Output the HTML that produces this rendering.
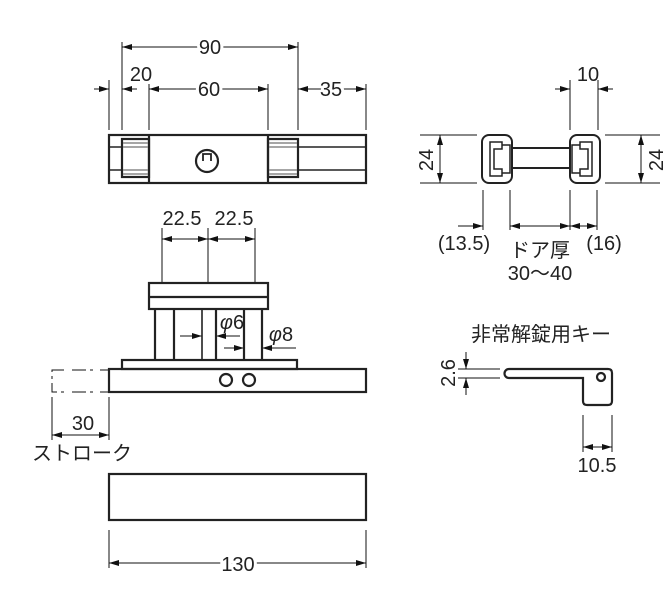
<!DOCTYPE html>
<html><head><meta charset="utf-8"><style>
html,body{margin:0;padding:0;background:#fff}
svg{display:block}
text{font-family:"Liberation Sans","Noto Sans CJK JP",sans-serif;font-size:20px;fill:#222}
</style></head><body>
<svg width="672" height="602" viewBox="0 0 672 602" xmlns="http://www.w3.org/2000/svg">
<defs>
<marker id="a" viewBox="0 0 10 6" refX="10" refY="3" markerWidth="10" markerHeight="6" orient="auto-start-reverse" markerUnits="userSpaceOnUse"><path d="M0,0 L10,3 L0,6z" fill="#111"/></marker>
</defs>
<g stroke="#111" stroke-width="1" fill="none">
<line x1="109" y1="80" x2="109" y2="130"/><line x1="122" y1="42" x2="122" y2="130"/>
<line x1="149" y1="84" x2="149" y2="130"/><line x1="268" y1="84" x2="268" y2="130"/>
<line x1="298" y1="42" x2="298" y2="130"/><line x1="366" y1="84" x2="366" y2="130"/>
<line x1="122" y1="47" x2="298" y2="47" marker-start="url(#a)" marker-end="url(#a)"/>
<line x1="94" y1="89" x2="109" y2="89" marker-end="url(#a)"/>
<line x1="137" y1="89" x2="122" y2="89" marker-end="url(#a)"/>
<line x1="149" y1="89" x2="268" y2="89" marker-start="url(#a)" marker-end="url(#a)"/>
<line x1="298" y1="89" x2="366" y2="89" marker-start="url(#a)" marker-end="url(#a)"/>
</g>
<g stroke="#222" stroke-width="2.2" fill="none">
<rect x="109" y="135" width="257" height="48"/>
<line x1="149" y1="135" x2="149" y2="183"/><line x1="268" y1="135" x2="268" y2="183"/>
<line x1="109" y1="147" x2="122" y2="147" stroke-width="1.5"/><line x1="109" y1="170" x2="122" y2="170" stroke-width="1.5"/>
<line x1="298" y1="147" x2="366" y2="147" stroke-width="1.5"/><line x1="298" y1="170" x2="366" y2="170" stroke-width="1.5"/>
<rect x="122" y="139" width="27" height="38"/>
<rect x="268" y="139" width="30" height="38"/>
<circle cx="207" cy="161" r="11"/>
<path d="M203,161 v-7 h8 v7" stroke-width="1.8"/>
</g>
<g stroke="#888" stroke-width="1.5">
<line x1="123" y1="143" x2="148" y2="143"/><line x1="123" y1="147" x2="148" y2="147"/>
<line x1="123" y1="170" x2="148" y2="170"/><line x1="123" y1="174" x2="148" y2="174"/>
<line x1="269" y1="143" x2="297" y2="143"/><line x1="269" y1="147" x2="297" y2="147"/>
<line x1="269" y1="170" x2="297" y2="170"/><line x1="269" y1="174" x2="297" y2="174"/>
</g>
<text x="141" y="81" text-anchor="middle">20</text>
<text x="209" y="96" text-anchor="middle" style="paint-order:stroke;stroke:#fff;stroke-width:6px">60</text>
<text x="210" y="54" text-anchor="middle" style="paint-order:stroke;stroke:#fff;stroke-width:6px">90</text>
<text x="331" y="96" text-anchor="middle" style="paint-order:stroke;stroke:#fff;stroke-width:6px">35</text>

<g stroke="#111" stroke-width="1" fill="none">
<line x1="162" y1="228" x2="162" y2="283"/><line x1="208" y1="228" x2="208" y2="283"/><line x1="255" y1="228" x2="255" y2="283"/>
<line x1="162" y1="239" x2="208" y2="239" marker-start="url(#a)" marker-end="url(#a)"/>
<line x1="208" y1="239" x2="255" y2="239" marker-start="url(#a)" marker-end="url(#a)"/>
<line x1="180" y1="336" x2="202" y2="336" marker-end="url(#a)"/>
<line x1="240" y1="336" x2="216" y2="336" marker-end="url(#a)"/>
<line x1="224" y1="348" x2="244" y2="348" marker-end="url(#a)"/>
<line x1="296" y1="348" x2="262" y2="348" marker-end="url(#a)"/>
<path d="M64,370 H52 V392 H64 M72,370 h24 M72,392 h24 M100,370 h9 M100,392 h9" stroke-dasharray="14,4,3,4"/>
<line x1="52" y1="397" x2="52" y2="440"/><line x1="109" y1="397" x2="109" y2="440"/>
<line x1="52" y1="435" x2="109" y2="435" marker-start="url(#a)" marker-end="url(#a)"/>
<line x1="109" y1="530" x2="109" y2="568"/><line x1="366" y1="530" x2="366" y2="568"/>
<line x1="109" y1="563" x2="366" y2="563" marker-start="url(#a)" marker-end="url(#a)"/>
</g>
<g stroke="#222" stroke-width="2.2" fill="none">
<rect x="149" y="283" width="119" height="26"/><line x1="149" y1="297" x2="268" y2="297"/>
<line x1="155" y1="309" x2="155" y2="360"/><line x1="174" y1="309" x2="174" y2="360"/>
<line x1="202" y1="309" x2="202" y2="360" stroke-width="1.6"/><line x1="216" y1="309" x2="216" y2="360"/>
<line x1="244" y1="309" x2="244" y2="360"/><line x1="262" y1="309" x2="262" y2="360"/>
<rect x="122" y="360" width="175" height="9"/>
<rect x="109" y="369" width="257" height="23"/>
<circle cx="226" cy="380" r="6"/><circle cx="249" cy="380" r="6"/>
<rect x="109" y="474" width="257" height="46"/>
</g>
<text x="182" y="225" text-anchor="middle">22.5</text>
<text x="234" y="225" text-anchor="middle">22.5</text>
<text x="232" y="329" text-anchor="middle"><tspan font-style="italic">φ</tspan>6</text>
<text x="281" y="341" text-anchor="middle"><tspan font-style="italic">φ</tspan>8</text>
<text x="83" y="430" text-anchor="middle">30</text>
<text x="82" y="460" text-anchor="middle">ストローク</text>
<text x="238" y="571" text-anchor="middle" style="paint-order:stroke;stroke:#fff;stroke-width:6px">130</text>

<g stroke="#111" stroke-width="1" fill="none">
<line x1="420" y1="135" x2="477" y2="135"/><line x1="420" y1="183" x2="477" y2="183"/>
<line x1="605" y1="135" x2="660" y2="135"/><line x1="605" y1="183" x2="660" y2="183"/>
<line x1="440" y1="135" x2="440" y2="183" marker-start="url(#a)" marker-end="url(#a)"/>
<line x1="641" y1="135" x2="641" y2="183" marker-start="url(#a)" marker-end="url(#a)"/>
<line x1="570" y1="80" x2="570" y2="130"/><line x1="598" y1="80" x2="598" y2="130"/>
<line x1="555" y1="89" x2="570" y2="89" marker-end="url(#a)"/>
<line x1="613" y1="89" x2="598" y2="89" marker-end="url(#a)"/>
<line x1="483" y1="190" x2="483" y2="230"/><line x1="510" y1="190" x2="510" y2="230"/>
<line x1="570" y1="190" x2="570" y2="230"/><line x1="597" y1="190" x2="597" y2="230"/>
<line x1="458" y1="226" x2="483" y2="226" marker-end="url(#a)"/>
<line x1="510" y1="226" x2="570" y2="226" marker-start="url(#a)" marker-end="url(#a)"/>
<line x1="570" y1="226" x2="597" y2="226" marker-start="url(#a)" marker-end="url(#a)"/>
</g>
<g stroke="#222" stroke-width="2" fill="none">
<rect x="482" y="135" width="30" height="48" rx="7"/>
<path d="M490,142 h12 v7 h-8 v20 h8 v7 h-12 z" stroke-width="1.5"/>
<path d="M502,145 h8 v28 h-8" stroke-width="1.5"/>
<rect x="570" y="135" width="30" height="48" rx="7"/>
<path d="M592,142 h-12 v7 h8 v20 h-8 v7 h12 z" stroke-width="1.5"/>
<path d="M580,145 h-8 v28 h8" stroke-width="1.5"/>
<rect x="512" y="148" width="58" height="20"/>
</g>
<text transform="translate(433,160) rotate(-90)" text-anchor="middle">24</text>
<text transform="translate(663,160) rotate(-90)" text-anchor="middle">24</text>
<text x="588" y="81" text-anchor="middle">10</text>
<text x="464" y="250" text-anchor="middle">(13.5)</text>
<text x="540" y="257" text-anchor="middle">ドア厚</text>
<text x="604" y="250" text-anchor="middle">(16)</text>
<text x="540" y="280" text-anchor="middle">30～40</text>

<text x="541" y="341" text-anchor="middle">非常解錠用キー</text>
<g stroke="#111" stroke-width="1" fill="none">
<line x1="458" y1="369" x2="500" y2="369"/><line x1="458" y1="378" x2="500" y2="378"/>
<line x1="466" y1="352" x2="466" y2="369" marker-end="url(#a)"/>
<line x1="466" y1="395" x2="466" y2="378" marker-end="url(#a)"/>
<line x1="583" y1="415" x2="583" y2="452"/><line x1="612" y1="415" x2="612" y2="452"/>
<line x1="583" y1="447" x2="612" y2="447" marker-start="url(#a)" marker-end="url(#a)"/>
</g>
<g stroke="#222" stroke-width="2.2" fill="none">
<path d="M509,369 H608 Q612,369 612,373 V401 Q612,405 608,405 H587 Q583,405 583,401 V378 H509 A4.5,4.5 0 0 1 509,369 Z"/>
<circle cx="601" cy="377" r="4"/>
</g>
<text transform="translate(455,373) rotate(-90)" text-anchor="middle">2.6</text>
<text x="597" y="472" text-anchor="middle">10.5</text>
</svg>
</body></html>
